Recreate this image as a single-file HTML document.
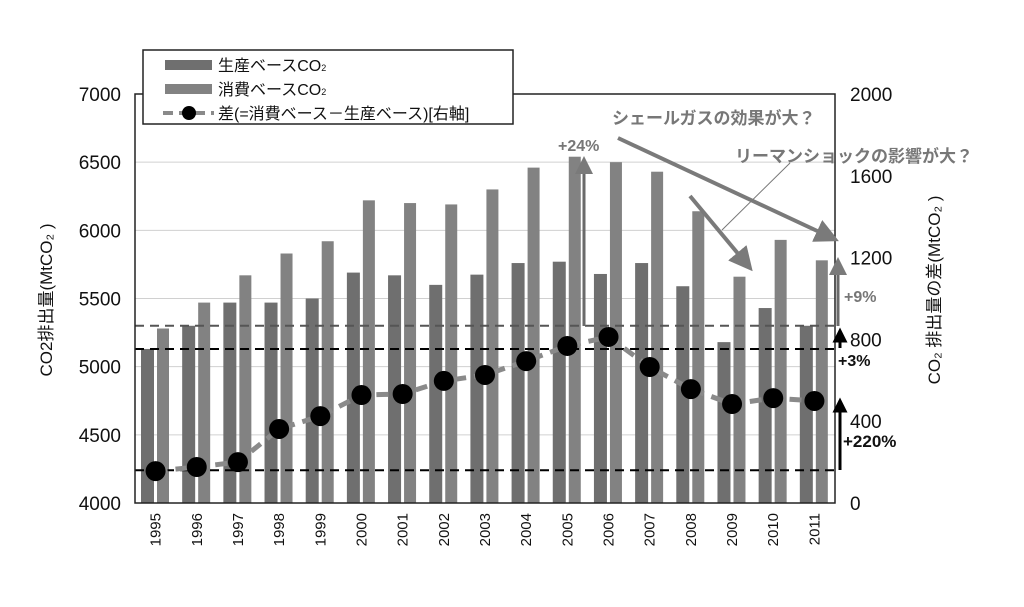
<!DOCTYPE html>
<html><head><meta charset="utf-8"><style>
body{margin:0;background:#fff;}
svg{display:block;font-family:"Liberation Sans","Noto Sans CJK JP",sans-serif;}
</style></head><body>
<svg id="c" width="1024" height="607" viewBox="0 0 1024 607">
<defs>
<marker id="ag" markerWidth="6" markerHeight="6" refX="3" refY="3" orient="auto" markerUnits="strokeWidth"><path d="M0,0 L6,3 L0,6 z" fill="#7a7a7a"/></marker>
<marker id="ab" markerWidth="5" markerHeight="5" refX="2.5" refY="2.5" orient="auto" markerUnits="strokeWidth"><path d="M0,0 L5,2.5 L0,5 z" fill="#000"/></marker>
</defs>
<g id="grid"></g><g id="bars"></g><g id="lines"></g><g id="axes"></g>
</svg>
<script>
const years=["1995","1996","1997","1998","1999","2000","2001","2002","2003","2004","2005","2006","2007","2008","2009","2010","2011"];
const production=[5130,5300,5470,5470,5500,5690,5670,5600,5675,5760,5770,5680,5760,5590,5180,5430,5300];
const consumption=[5280,5470,5670,5830,5920,6220,6200,6190,6300,6460,6540,6500,6430,6140,5660,5930,5780];
const diff=[156,176,200,362,425,528,533,597,626,694,768,812,665,557,484,513,499];
const leftTicks=[4000,4500,5000,5500,6000,6500,7000];
const rightTicks=[0,400,800,1200,1600,2000];
const NS="http://www.w3.org/2000/svg";
const X0=135,X1=835,Y0=503,Y1=94;
const yL=v=>Y0-(v-4000)/3000*(Y0-Y1);
const yR=v=>Y0-v/2000*(Y0-Y1);
const bw=(X1-X0)/years.length;
const xb=i=>X0+i*bw;
function mk(p,t,a){const e=document.createElementNS(NS,t);for(const k in a)e.setAttribute(k,a[k]);document.getElementById(p).appendChild(e);return e;}
leftTicks.forEach(v=>{
 if(v>4000){const l=mk('grid','line',{x1:X0,x2:X1,y1:yL(v),y2:yL(v),stroke:'#d0d0d0','stroke-width':1});
 
 }
 const t=mk('axes','text',{x:X0-14,y:yL(v)+7,'text-anchor':'end','font-size':19,fill:'#111'});t.textContent=v;
 
 
});
rightTicks.forEach(v=>{
 const t=mk('axes','text',{x:850,y:yR(v)+7,'font-size':19,fill:'#111'});t.textContent=v;
 
 
});
years.forEach((y,i)=>{
 const b1=mk('bars','rect',{x:xb(i)+6,y:yL(production[i]),width:13,height:Y0-yL(production[i]),fill:'#6f6f6f'});
 
 
 const b2=mk('bars','rect',{x:xb(i)+22,y:yL(consumption[i]),width:12,height:Y0-yL(consumption[i]),fill:'#828282'});
 
 
 const cx=xb(i)+bw/2;
 const t=mk('axes','text',{x:0,y:0,'font-size':15,fill:'#111','text-anchor':'end',transform:`translate(${cx+5},${Y0+10}) rotate(-90)`});t.textContent=y;
 
 
});
// reference dashed lines
[[yL(4240),'#000'],[yL(5130),'#000'],[yL(5300),'#555']].forEach(([y,c])=>{
 const l=mk('lines','line',{x1:X0,x2:X1,y1:y,y2:y,stroke:c,'stroke-width':2,'stroke-dasharray':'9,6'});
 
 
});
const pts=diff.map((d,i)=>[xb(i)+bw/2,yR(d)]);
const pl=mk('lines','polyline',{points:pts.map(p=>p.join(',')).join(' '),fill:'none',stroke:'#8a8a8a','stroke-width':5,'stroke-dasharray':'12,8'});


pts.forEach((p,i)=>{const c=mk('lines','circle',{cx:p[0],cy:p[1],r:10,fill:'#000'});
 
 });
</script>
<svg width="1024" height="607" style="position:absolute;left:0;top:0" font-family="Liberation Sans, Noto Sans CJK JP, sans-serif">
<rect x="135" y="94" width="700" height="409" fill="none" stroke="#222" stroke-width="1.5"/>
<g>
<rect x="143" y="50" width="370" height="74" fill="#fff" stroke="#222" stroke-width="1.5"/>
<rect x="165" y="60" width="47" height="10" fill="#6f6f6f"/>
<text x="218" y="71" font-size="16" fill="#111">生産ベースCO<tspan font-size="9">2</tspan></text>
<rect x="165" y="84" width="47" height="10" fill="#828282"/>
<text x="218" y="95" font-size="16" fill="#111">消費ベースCO<tspan font-size="9">2</tspan></text>
<line x1="163" y1="113" x2="214" y2="113" stroke="#8a8a8a" stroke-width="4" stroke-dasharray="10,6"/>
<circle cx="189" cy="113" r="7" fill="#000"/>
<text x="218" y="119" font-size="16" fill="#111">差(=消費ベース－生産ベース)[右軸]</text>
</g>
<text transform="translate(52,300) rotate(-90)" text-anchor="middle" font-size="17" fill="#111">CO2排出量(MtCO₂ )</text>
<text transform="translate(940,290) rotate(-90)" text-anchor="middle" font-size="17" fill="#111">CO₂ 排出量の差(MtCO₂ )</text>
<text x="612" y="124" font-size="17" font-weight="bold" fill="#777">シェールガスの効果が大？</text>
<text x="735" y="162" font-size="17" font-weight="bold" fill="#777">リーマンショックの影響が大？</text>
<line x1="618" y1="138" x2="828" y2="236" stroke="#7a7a7a" stroke-width="4" marker-end="url(#ag)"/>
<line x1="690" y1="196" x2="745" y2="262" stroke="#7a7a7a" stroke-width="4" marker-end="url(#ag)"/>
<line x1="722" y1="230" x2="790" y2="163" stroke="#777" stroke-width="1"/>
<line x1="584" y1="326" x2="584" y2="165" stroke="#6a6a6a" stroke-width="3" marker-end="url(#ag)"/>
<text x="558" y="151" font-size="16" font-weight="bold" fill="#777">+24%</text>
<line x1="838" y1="326" x2="838" y2="266" stroke="#6a6a6a" stroke-width="3" marker-end="url(#ag)"/>
<text x="844" y="302" font-size="16" font-weight="bold" fill="#777">+9%</text>
<line x1="840" y1="348" x2="840" y2="335" stroke="#000" stroke-width="3" marker-end="url(#ab)"/>
<text x="838" y="366" font-size="16" font-weight="bold" fill="#111">+3%</text>
<line x1="840" y1="470" x2="840" y2="405" stroke="#000" stroke-width="3" marker-end="url(#ab)"/>
<text x="843" y="447" font-size="17" font-weight="bold" fill="#111">+220%</text>
<defs>
<marker id="ag" markerWidth="6" markerHeight="6" refX="3" refY="3" orient="auto"><path d="M0,0 L6,3 L0,6 z" fill="#7a7a7a"/></marker>
<marker id="ab" markerWidth="5" markerHeight="5" refX="2.5" refY="2.5" orient="auto"><path d="M0,0 L5,2.5 L0,5 z" fill="#000"/></marker>
</defs>
</svg>
</body></html>
